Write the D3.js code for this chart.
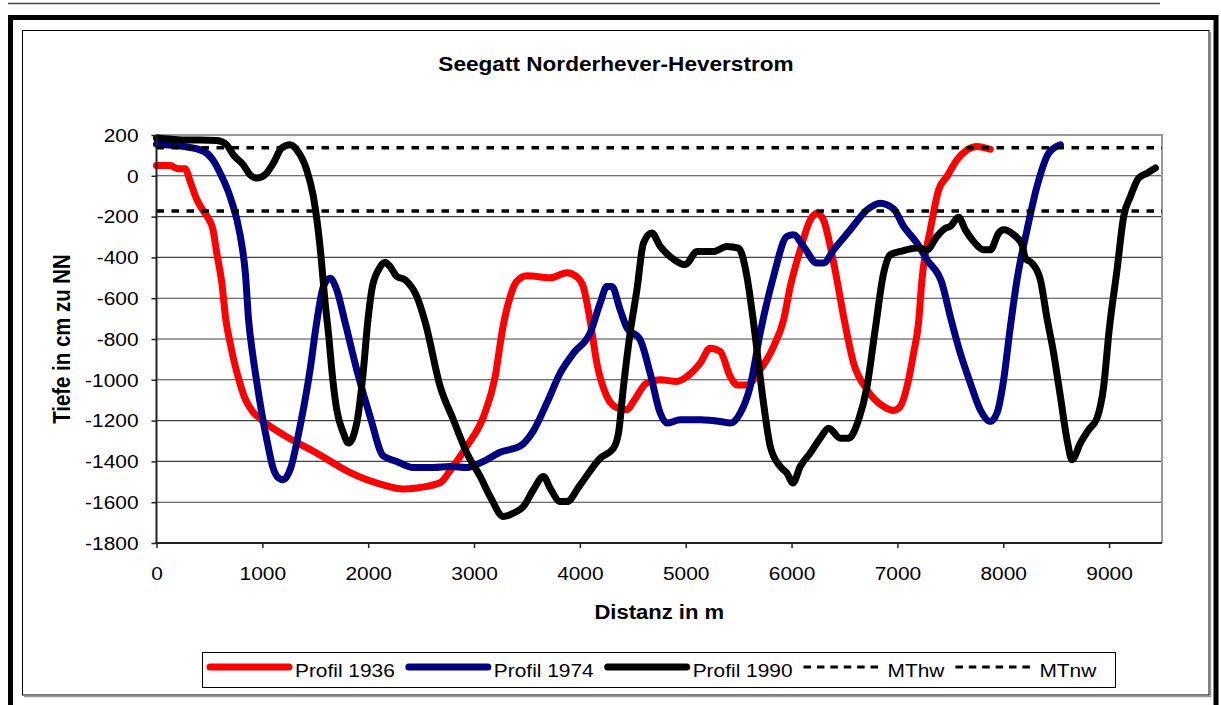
<!DOCTYPE html>
<html><head><meta charset="utf-8">
<script src="https://cdn.jsdelivr.net/npm/d3@7"></script>
<style>
html,body{margin:0;padding:0;background:#fff;}
svg{display:block;}
text{font-family:"Liberation Sans",Arial,sans-serif;fill:#000;}
</style></head>
<body><svg id="c" width="1221" height="705"></svg>
<script>
const chartTitle = "Seegatt Norderhever-Heverstrom";
const xTitle = "Distanz in m";
const yTitle = "Tiefe in cm zu NN";
const xTicks = [0,1000,2000,3000,4000,5000,6000,7000,8000,9000];
const yTicks = [200,0,-200,-400,-600,-800,-1000,-1200,-1400,-1600,-1800];
const seriesNames = ["Profil 1936","Profil 1974","Profil 1990","MThw","MTnw"];

const profil1936 = [[0,50],[130,50],[200,35],[270,35],[320,-30],[380,-115],[440,-170],[487,-206],[534,-265],[569,-378],[616,-520],[655,-706],[700,-830],[740,-925],[790,-1020],[835,-1090],[900,-1150],[990,-1195],[1200,-1270],[1500,-1355],[1830,-1455],[2140,-1515],[2330,-1535],[2460,-1530],[2680,-1505],[2780,-1440],[2930,-1327],[3090,-1180],[3200,-984],[3270,-750],[3340,-595],[3400,-520],[3500,-490],[3720,-500],[3880,-475],[3970,-495],[4030,-540],[4100,-720],[4160,-917],[4255,-1082],[4350,-1137],[4444,-1147],[4507,-1106],[4633,-1015],[4760,-1000],[4917,-1008],[5011,-984],[5137,-918],[5232,-845],[5326,-861],[5421,-984],[5484,-1025],[5578,-1025],[5704,-951],[5830,-837],[5925,-706],[5988,-543],[6082,-363],[6177,-216],[6240,-183],[6302,-216],[6366,-346],[6429,-510],[6492,-690],[6586,-918],[6713,-1049],[6870,-1131],[6964,-1150],[7027,-1131],[7091,-1033],[7153,-869],[7200,-720],[7232,-510],[7311,-265],[7390,-69],[7469,-3],[7563,78],[7658,127],[7752,144],[7878,130]];

const profil1974 = [[0,155],[250,144],[450,119],[530,80],[600,15],[700,-110],[790,-290],[840,-480],[870,-706],[910,-880],[947,-1010],[1000,-1180],[1041,-1290],[1100,-1430],[1150,-1480],[1199,-1490],[1262,-1441],[1356,-1229],[1451,-951],[1510,-730],[1577,-543],[1640,-502],[1703,-559],[1780,-715],[1892,-951],[2018,-1180],[2144,-1374],[2270,-1400],[2427,-1430],[2616,-1430],[2774,-1425],[2932,-1430],[3089,-1400],[3247,-1355],[3436,-1325],[3561,-1250],[3688,-1114],[3814,-967],[3940,-869],[4097,-770],[4192,-624],[4255,-543],[4302,-543],[4381,-657],[4440,-740],[4570,-804],[4664,-967],[4759,-1163],[4822,-1212],[4948,-1196],[5137,-1196],[5326,-1204],[5421,-1212],[5515,-1163],[5609,-1033],[5704,-770],[5830,-493],[5956,-297],[6019,-289],[6113,-346],[6240,-428],[6302,-428],[6397,-363],[6555,-265],[6713,-167],[6838,-134],[6964,-162],[7059,-248],[7185,-330],[7280,-412],[7421,-526],[7500,-690],[7594,-869],[7689,-1016],[7783,-1147],[7878,-1204],[7941,-1163],[8004,-1000],[8060,-770],[8130,-510],[8225,-265],[8319,-52],[8429,111],[8540,152]];

const profil1990 = [[0,185],[250,176],[410,176],[570,173],[663,152],[726,103],[820,54],[884,5],[947,-11],[1025,5],[1104,62],[1183,136],[1262,152],[1325,127],[1419,29],[1482,-101],[1545,-346],[1593,-620],[1630,-800],[1656,-951],[1703,-1147],[1766,-1261],[1813,-1310],[1892,-1212],[1955,-951],[1995,-720],[2034,-559],[2097,-461],[2160,-425],[2207,-445],[2270,-493],[2349,-510],[2459,-591],[2540,-720],[2680,-1033],[2805,-1196],[2932,-1359],[3058,-1474],[3152,-1572],[3278,-1670],[3372,-1654],[3467,-1621],[3561,-1539],[3656,-1474],[3719,-1531],[3814,-1597],[3877,-1597],[4003,-1515],[4192,-1384],[4318,-1335],[4365,-1261],[4412,-1033],[4475,-770],[4539,-559],[4601,-330],[4680,-281],[4759,-346],[4853,-396],[4995,-436],[5106,-371],[5263,-371],[5389,-346],[5499,-354],[5578,-493],[5641,-720],[5735,-1114],[5799,-1327],[5893,-1425],[5956,-1457],[6013,-1506],[6082,-1425],[6177,-1359],[6271,-1286],[6350,-1237],[6460,-1286],[6539,-1286],[6633,-1196],[6713,-1033],[6790,-755],[6870,-477],[6933,-387],[7027,-371],[7185,-354],[7280,-363],[7374,-297],[7453,-257],[7500,-248],[7578,-203],[7642,-265],[7720,-322],[7815,-363],[7878,-363],[7957,-281],[8004,-265],[8098,-289],[8178,-338],[8209,-404],[8272,-428],[8351,-510],[8414,-700],[8476,-869],[8540,-1082],[8603,-1294],[8650,-1392],[8729,-1310],[8807,-1245],[8886,-1188],[8949,-1033],[9000,-760],[9075,-461],[9138,-199],[9202,-101],[9280,-11],[9359,13],[9438,38]];

const mthwLevel = 137;
const mtnwLevel = -172;
const xDomain = [0, 9500];
const yDomain = [-1800, 200];

const S = 1.13; // horizontal glyph stretch
const svg = d3.select("#c");
const P = {l:156.5, r:1162, t:135, b:543};
const x = d3.scaleLinear().domain(xDomain).range([P.l, P.r]);
const y = d3.scaleLinear().domain(yDomain).range([P.b, P.t]);

function stretchAt(sel, cx){ sel.attr("transform", `translate(${cx},0) scale(${S},1) translate(${-cx},0)`); }

// outer decoration
svg.append("line").attr("x1",8).attr("x2",1160).attr("y1",3.5).attr("y2",3.5).attr("stroke","#444").attr("stroke-width",1.5);
svg.append("rect").attr("x",10.5).attr("y",17.5).attr("width",1205.5).attr("height",740).attr("fill","none").attr("stroke","#000").attr("stroke-width",5);
svg.append("rect").attr("x",22.5).attr("y",30.5).attr("width",1186.5).attr("height",664.5).attr("fill","#fff").attr("stroke","#000").attr("stroke-width",1);
svg.append("line").attr("x1",1210.5).attr("x2",1210.5).attr("y1",32).attr("y2",697).attr("stroke","#999").attr("stroke-width",1.5);
svg.append("line").attr("x1",24).attr("x2",1211).attr("y1",696.5).attr("y2",696.5).attr("stroke","#999").attr("stroke-width",1.5);

// gridlines
svg.append("g").selectAll("line").data(yTicks.filter(v=>v>yDomain[0] && v<yDomain[1])).join("line")
  .attr("x1",P.l).attr("x2",P.r).attr("y1",d=>y(d)).attr("y2",d=>y(d))
  .attr("stroke","#404040").attr("stroke-width",1.1);

// plot border top/right
svg.append("path").attr("d",`M${P.l},${P.t}H${P.r}V${P.b}`).attr("fill","none").attr("stroke","#999").attr("stroke-width",2);

// series
const line = d3.line().x(d=>x(d[0])).y(d=>y(d[1])).curve(d3.curveMonotoneX);
const series = [
  {name:seriesNames[0], data:profil1936, color:"#ff0000"},
  {name:seriesNames[1], data:profil1974, color:"#000080"},
  {name:seriesNames[2], data:profil1990, color:"#000000"}
];
svg.append("g").selectAll("path").data(series).join("path")
  .attr("d",d=>line(d.data)).attr("fill","none").attr("stroke",d=>d.color)
  .attr("stroke-width",7).attr("stroke-linecap","round").attr("stroke-linejoin","round");

const levels = [{name:seriesNames[3], v:mthwLevel},{name:seriesNames[4], v:mtnwLevel}];
svg.append("g").selectAll("path").data(levels).join("path")
  .attr("d",d=>d3.line().x(p=>x(p[0])).y(p=>y(p[1]))([[xDomain[0],d.v],[xDomain[1],d.v]]))
  .attr("fill","none").attr("stroke","#000").attr("stroke-width",3.5).attr("stroke-dasharray","7.5,7.5");

// axes
const fmt = d => String(d);
const yAxis = svg.append("g").attr("transform",`translate(${P.l},0)`)
  .call(d3.axisLeft(y).tickValues(yTicks).tickSize(5).tickSizeOuter(0).tickPadding(13).tickFormat(fmt));
const xAxis = svg.append("g").attr("transform",`translate(0,${P.b})`)
  .call(d3.axisBottom(x).tickValues(xTicks).tickSize(5).tickSizeOuter(0).tickPadding(19).tickFormat(fmt));
[yAxis,xAxis].forEach(a=>{
  a.select(".domain").attr("stroke","#222").attr("stroke-width",2);
  a.selectAll(".tick line").attr("stroke","#222").attr("stroke-width",1.5);
  a.selectAll(".tick text").attr("font-size","18.5px").attr("font-family","'Liberation Sans',Arial,sans-serif").attr("fill","#000");
});
yAxis.select(".domain").attr("d",`M0,${P.b+1}V${P.t}`);
xAxis.select(".domain").attr("d",`M${P.l-1},0H${P.r}`);
yAxis.selectAll(".tick text").attr("dy","0.34em").each(function(){ stretchAt(d3.select(this), +d3.select(this).attr("x")); });
xAxis.selectAll(".tick text").each(function(){ stretchAt(d3.select(this), 0); });

// titles
svg.append("text").attr("x",616).attr("y",71).attr("text-anchor","middle").attr("font-weight","bold").attr("font-size","20px")
  .text(chartTitle).call(s=>stretchAt(s,616));
svg.append("text").attr("x",(P.l+P.r)/2).attr("y",619).attr("text-anchor","middle").attr("font-weight","bold").attr("font-size","19.5px")
  .text(xTitle).call(s=>stretchAt(s,(P.l+P.r)/2));
svg.append("text").attr("text-anchor","middle").attr("font-weight","bold").attr("font-size","20.4px")
  .attr("transform",`translate(70,${(P.t+P.b)/2}) scale(${S},1) rotate(-90)`).text(yTitle);

// legend
const lg = svg.append("g");
lg.append("rect").attr("x",202.5).attr("y",652.5).attr("width",913).attr("height",35).attr("fill","#fff").attr("stroke","#000").attr("stroke-width",1);
const items = [
  {name:seriesNames[0], color:"#ff0000", dash:null},
  {name:seriesNames[1], color:"#000080", dash:null},
  {name:seriesNames[2], color:"#000", dash:null},
  {name:seriesNames[3], color:"#000", dash:"7.5,5.9"},
  {name:seriesNames[4], color:"#000", dash:"7.5,5.9"}
];
let cx = 207;
items.forEach(it=>{
  const ly = 667;
  if(it.dash){
    lg.append("line").attr("x1",cx).attr("x2",cx+80).attr("y1",ly).attr("y2",ly).attr("stroke",it.color).attr("stroke-width",3).attr("stroke-dasharray",it.dash);
    cx += 84;
  } else {
    lg.append("line").attr("x1",cx+3).attr("x2",cx+82).attr("y1",ly).attr("y2",ly).attr("stroke",it.color).attr("stroke-width",7).attr("stroke-linecap","round");
    cx += 88;
  }
  const t = lg.append("text").attr("x",cx).attr("y",677).attr("font-size","18.5px").text(it.name);
  stretchAt(t, cx);
  cx += t.node().getComputedTextLength()*S + 11;
});
</script>
</body></html>
